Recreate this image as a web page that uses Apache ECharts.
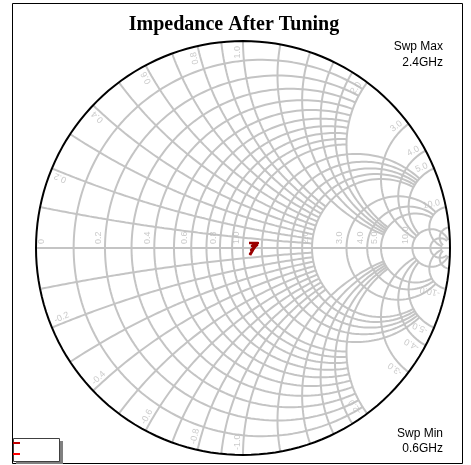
<!DOCTYPE html>
<html>
<head>
<meta charset="utf-8">
<script src="https://cdn.jsdelivr.net/npm/echarts@6/dist/echarts.min.js"></script>
<style>
  html, body { margin: 0; padding: 0; background: #fff; }
  #chart { width: 471px; height: 465px; }
</style>
</head>
<body>
<div id="chart"></div>
<script>
// Measured reflection coefficient S11 over the sweep (0.6 GHz .. 2.4 GHz)
const s11Re = [0.029, 0.072, 0.043, 0.068, 0.039, 0.058, 0.034, 0.048, 0.034];
const s11Im = [0.024, 0.024, 0.010, 0.014, -0.010, 0.005, -0.029, -0.010, -0.034];

// Constant-resistance circles, grouped by how far (in |x|) each one is drawn
const rFine = [0.1, 0.2, 0.3, 0.4, 0.5, 0.6, 0.7, 0.8, 0.9, 1.0];
const rMid = [1.2, 1.4, 1.6, 1.8, 2.0];
const rCoarse = [3, 4, 5];
const rHigh = [10, 20];
// Constant-reactance arcs, grouped by how far (in r) each one is drawn
const xFine = [0.1, 0.2, 0.3, 0.4, 0.5, 0.6, 0.7, 0.8, 0.9, 1.0];
const xMid = [1.2, 1.4, 1.6, 1.8, 2.0];
const xCoarse = [3, 4, 5];
const xHigh = [10, 20];

// Grid labels
const rLabels = [0, 0.2, 0.4, 0.6, 0.8, 1.0, 2.0, 3.0, 4.0, 5.0, 10.0];
const xLabels = [0.2, 0.4, 0.6, 0.8, 1.0, 2.0, 3.0, 4.0, 5.0, 10.0];

const GRID_COLOR = '#c4c4c4';
const LABEL_COLOR = '#bdbdbd';

// normalized impedance z = r + jx  ->  reflection coefficient
function gamma(r, x) {
  const den = (r + 1) * (r + 1) + x * x;
  return [(r * r - 1 + x * x) / den, (2 * x) / den];
}

function rCircle(r, xmax) {
  const c = r / (1 + r), rho = 1 / (1 + r);
  let t0 = 0.0001;
  if (isFinite(xmax)) {
    const g = gamma(r, xmax);
    t0 = Math.atan2(g[1], g[0] - c);
  }
  const pts = [];
  const n = 160;
  for (let i = 0; i <= n; i++) {
    const t = t0 + (2 * Math.PI - 2 * t0) * i / n;
    pts.push([c + rho * Math.cos(t), rho * Math.sin(t)]);
  }
  return pts;
}

function xArc(x, rmax) {
  const s = x < 0 ? -1 : 1, X = Math.abs(x);
  const cy = 1 / X, rho = 1 / X;
  const norm = a => (a < 0 ? a + 2 * Math.PI : a);
  const g0 = gamma(0, X);
  const g1 = isFinite(rmax) ? gamma(rmax, X) : [1, 0];
  const a0 = norm(Math.atan2(g0[1] - cy, g0[0] - 1));
  const a1 = isFinite(rmax) ? norm(Math.atan2(g1[1] - cy, g1[0] - 1)) : 1.5 * Math.PI;
  const pts = [];
  const n = 120;
  for (let i = 0; i <= n; i++) {
    const a = a0 + (a1 - a0) * i / n;
    pts.push([1 + rho * Math.cos(a), s * (cy + rho * Math.sin(a))]);
  }
  return pts;
}

function gridLine(data, color, width, z) {
  return {
    type: 'line', data, showSymbol: false, symbol: 'none', silent: true,
    smooth: false, animation: false, z: z || 1,
    lineStyle: { color, width }
  };
}

const series = [];
const addR = (list, xmax) => list.forEach(r => series.push(gridLine(rCircle(r, xmax), GRID_COLOR, 2)));
const addX = (list, rmax) => list.forEach(x => {
  series.push(gridLine(xArc(x, rmax), GRID_COLOR, 2));
  series.push(gridLine(xArc(-x, rmax), GRID_COLOR, 2));
});
addR(rFine, 2); addR(rMid, 5); addR(rCoarse, 10); addR(rHigh, 50);
addX(xFine, 2); addX(xMid, 5); addX(xCoarse, 10); addX(xHigh, 50);
// real axis
series.push(gridLine([[-1, 0], [1, 0]], GRID_COLOR, 2));
// outer boundary (r = 0)
series.push(gridLine(rCircle(0, Infinity), '#000', 2, 3));

const labelFont = { color: LABEL_COLOR, fontSize: 9, fontFamily: 'Liberation Sans, Arial, sans-serif' };
const fmt = v => (v === 0 ? '0' : v.toFixed(1));

// resistance labels along the real axis, reading upward
series.push({
  type: 'scatter', silent: true, animation: false, symbolSize: 0, z: 4,
  itemStyle: { color: 'transparent' },
  data: rLabels.map(r => ({
    value: gamma(r, 0),
    label: {
      show: true, formatter: fmt(r), position: 'inside', rotate: 90,
      align: 'left', verticalAlign: 'bottom',
      offset: r === 0 ? [4, 10] : [4, -2], ...labelFont
    }
  }))
});

// reactance labels just inside the boundary, running along each arc
const xLabelData = [];
xLabels.forEach(x => {
  [x, -x].forEach(v => {
    const g = gamma(0, v);
    const phi = Math.atan2(g[1], g[0]) * 180 / Math.PI;
    const upper = v > 0;
    xLabelData.push({
      value: g,
      label: {
        show: true, formatter: (v < 0 ? '-' : '') + fmt(Math.abs(v)), position: 'inside',
        rotate: upper ? phi : phi + 180,
        align: upper ? 'right' : 'left', verticalAlign: 'bottom',
        offset: upper ? [-5, -1] : [5, -1], ...labelFont
      }
    });
  });
});
series.push({
  type: 'scatter', silent: true, animation: false, symbolSize: 0, z: 4,
  itemStyle: { color: 'transparent' }, data: xLabelData
});

// measured trace
series.push({
  type: 'line', name: 'S11', animation: false, showSymbol: false, z: 5,
  data: s11Re.map((u, i) => [u, s11Im[i]]),
  lineStyle: { color: '#9a0000', width: 2.5, join: 'round' }
});

const chart = echarts.init(document.getElementById('chart'), null, { renderer: 'canvas' });
chart.setOption({
  animation: false,
  backgroundColor: '#fff',
  title: {
    text: 'Impedance After Tuning', left: 229, top: 10, textAlign: 'center',
    textStyle: { fontFamily: 'Liberation Serif, Times New Roman, serif', fontWeight: 'bold', fontSize: 20, color: '#000' }
  },
  grid: { left: 36, top: 41, width: 414, height: 414 },
  xAxis: { type: 'value', min: -1, max: 1, show: false },
  yAxis: { type: 'value', min: -1, max: 1, show: false },
  series,
  graphic: [
    { type: 'rect', shape: { x: 12.5, y: 3.5, width: 450, height: 460 }, style: { fill: 'none', stroke: '#000', lineWidth: 1 }, z: 10 },
    { type: 'text', right: 28, top: 41, style: { text: 'Swp Max', textAlign: 'right', font: '12px Liberation Sans, Arial, sans-serif', fill: '#000' }, z: 10 },
    { type: 'text', right: 28, top: 57, style: { text: '2.4GHz', textAlign: 'right', font: '12px Liberation Sans, Arial, sans-serif', fill: '#000' }, z: 10 },
    { type: 'text', right: 28, top: 428, style: { text: 'Swp Min', textAlign: 'right', font: '12px Liberation Sans, Arial, sans-serif', fill: '#000' }, z: 10 },
    { type: 'text', right: 28, top: 443, style: { text: '0.6GHz', textAlign: 'right', font: '12px Liberation Sans, Arial, sans-serif', fill: '#000' }, z: 10 },
    // legend box with drop shadow
    { type: 'rect', shape: { x: 16, y: 441, width: 47, height: 23 }, style: { fill: '#808080' }, z: 10 },
    { type: 'rect', shape: { x: 13.5, y: 438.5, width: 46, height: 23 }, style: { fill: '#fff', stroke: '#404040', lineWidth: 1 }, z: 11 },
    { type: 'line', shape: { x1: 13, y1: 443, x2: 20, y2: 443 }, style: { stroke: '#c00000', lineWidth: 2 }, z: 12 },
    { type: 'line', shape: { x1: 13, y1: 454, x2: 20, y2: 454 }, style: { stroke: '#ff0000', lineWidth: 2 }, z: 12 }
  ]
});
</script>
</body>
</html>
